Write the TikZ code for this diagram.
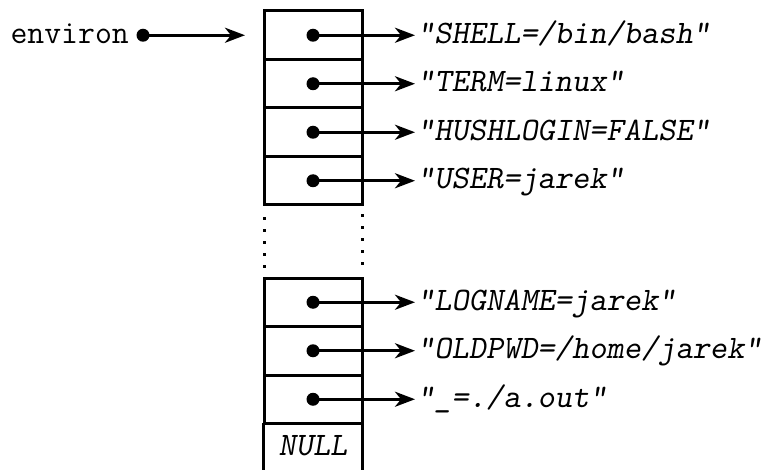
\documentclass[tikz,border=0pt]{standalone}
\usepackage{fontspec}
\usetikzlibrary{arrows.meta}
\begin{document}
\begin{tikzpicture}[x=1pt,y=-1pt,
  cell/.style={draw,line width=3pt,rectangle,minimum width=98pt,minimum height=48.5pt,inner sep=0pt,outer sep=0pt},
  ptr/.style={line width=3pt,-{Stealth[length=20pt,width=15pt,inset=6pt]}},
  dot/.style={circle,fill,inner sep=0pt,minimum size=13pt},
  str/.style={anchor=base west,inner sep=0pt,font=\ttfamily\slshape\fontsize{32.8}{38}\selectfont},
  lbl/.style={inner sep=0pt,font=\ttfamily\fontsize{32.8}{38}\selectfont},
  dots/.style={line width=3pt,dash pattern=on 3pt off 9pt}]
\useasboundingbox (0,0) rectangle (767,470);

% upper part of the array
\node[cell] (c1) at (313,35.25) {};
\node[cell] (c2) at (313,83.75) {};
\node[cell] (c3) at (313,132.25) {};
\node[cell] (c4) at (313,180.75) {};
% lower part of the array
\node[cell] (c5) at (313,302.25) {};
\node[cell] (c6) at (313,350.75) {};
\node[cell] (c7) at (313,399.25) {};
\node[inner sep=0pt,minimum width=98pt,minimum height=48.5pt] (c8) at (313,447.75) {};
\node[str,anchor=base] at ([yshift=-8pt]c8.center) {NULL};
\coordinate (bottom) at (0,472);
\draw[line width=3pt] (c8.north west) -- (c8.north west |- bottom);
\draw[line width=3pt] (c8.north east) -- (c8.north east |- bottom);

% elided entries
\draw[dots,shorten <=12pt,shorten >=9pt] (c4.south west) -- (c5.north west);
\draw[dots,shorten <=9pt,shorten >=12pt] (c4.south east) -- (c5.north east);

% the environ pointer
\node[lbl,anchor=base east] (env) at (129,43.25) {environ};
\node[dot] (ed) at (143,35.25) {};
\draw[ptr,shorten >=19pt] (ed.center) -- (c1.west);

% strings
\node[str] (t1) at (417,43.25) {"SHELL=/bin/bash"};
\node[str] (t2) at (417,91.75) {"TERM=linux"};
\node[str] (t3) at (417,140.25) {"HUSHLOGIN=FALSE"};
\node[str] (t4) at (417,188.75) {"USER=jarek"};
\node[str] (t5) at (417,310.25) {"LOGNAME=jarek"};
\node[str] (t6) at (417,358.75) {"OLDPWD=/home/jarek"};
\node[str] (t7) at (417,407.25) {"\_=./a.out"};

\foreach \i in {1,...,7}{
  \node[dot] at (c\i.center) {};
  \draw[ptr,shorten >=2pt] (c\i.center) -- (c\i.center -| t\i.west);
}
\end{tikzpicture}
\end{document}
